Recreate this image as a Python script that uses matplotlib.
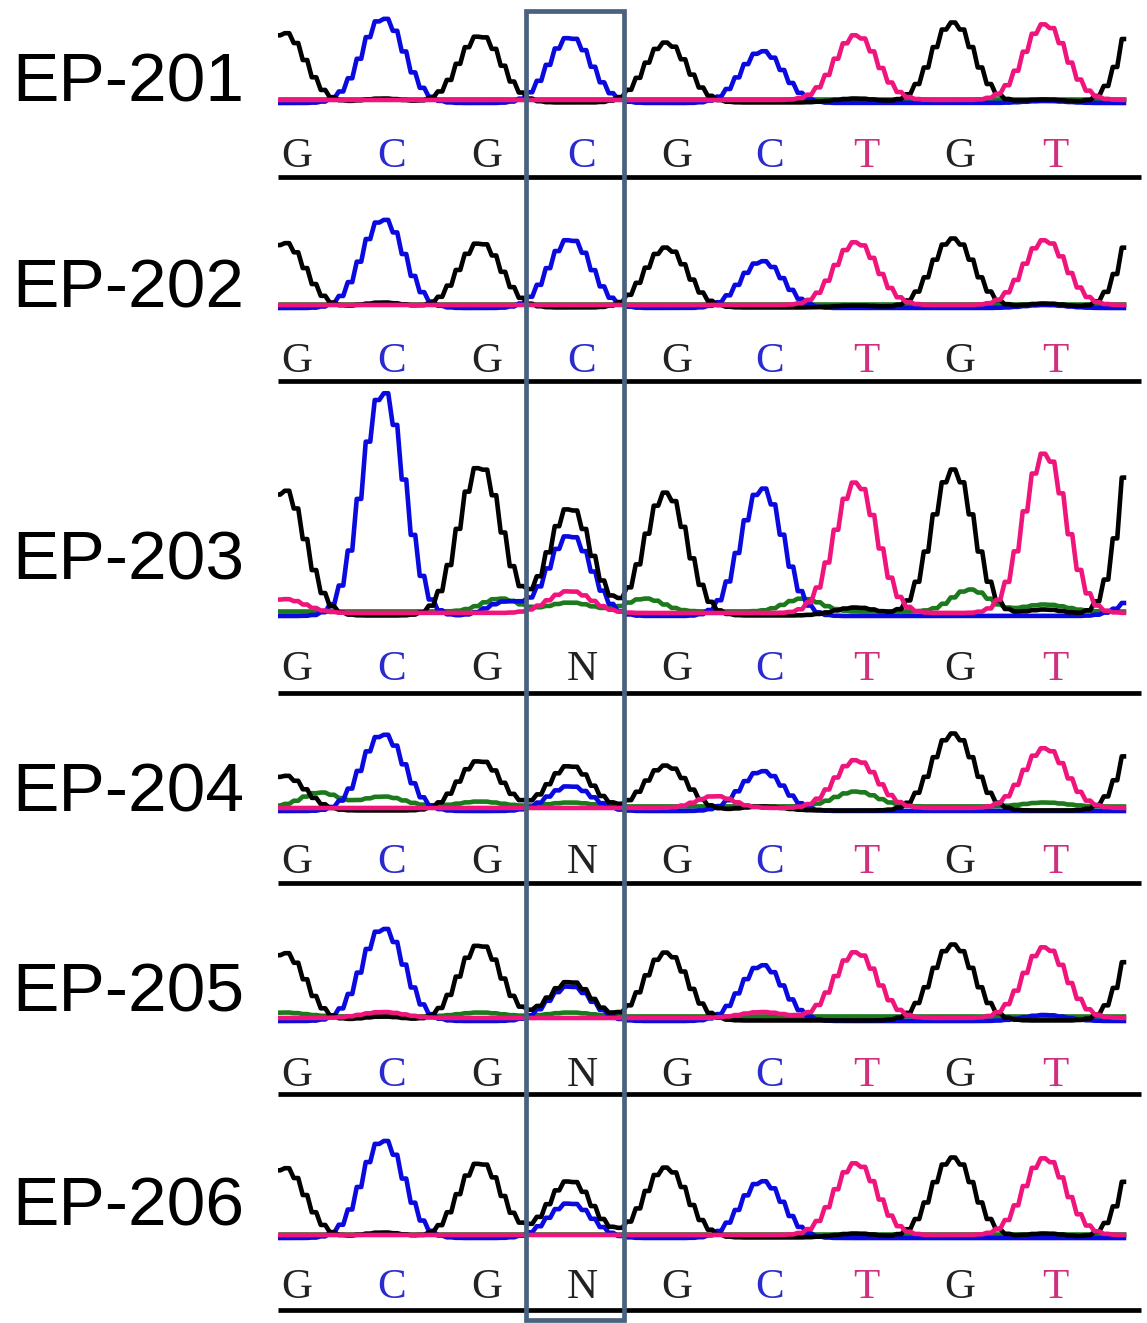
import numpy as np
import matplotlib
matplotlib.use("Agg")
import matplotlib.pyplot as plt
from matplotlib.patches import Rectangle

# ---------------- data ----------------
SAMPLES = ["EP-201", "EP-202", "EP-203", "EP-204", "EP-205", "EP-206"]
CALLS = ["GCGCGCTGT", "GCGCGCTGT", "GCGNGCTGT", "GCGNGCTGT", "GCGNGCTGT", "GCGNGCTGT"]

# scan positions of peak centres and of the called letters
PEAK_POS = [284, 383, 480, 570, 666, 762, 856, 953, 1045, 1148]
LETTER_POS = [297, 392, 487, 582, 677, 770, 866, 960, 1055]

# peak heights per channel at PEAK_POS (signal units)
G_BLACK = [
    [70, 4, 67, 0, 60, 0, 4, 80, 3, 122],
    [65, 5, 65, 0, 60, 0, 2, 69, 4, 115],
    [126, 0, 150, 108, 123, 0, 8, 146, 6, 265],
    [35, 0, 50, 45, 45, 4, 0, 77, 0, 104],
    [68, 4, 76, 39, 68, 0, 0, 76, 0, 112],
    [70, 5, 75, 57, 70, 0, 4, 80, 4, 107],
]
C_BLUE = [
    [0, 85, 0, 66, 0, 52, 0, 0, 2, 0],
    [0, 89, 0, 69, 0, 47, 0, 0, 3, 0],
    [0, 225, 0, 81, 0, 128, 0, 0, 0, 25],
    [0, 77, 0, 25, 0, 40, 0, 0, 0, 0],
    [0, 93, 0, 35, 0, 56, 0, 0, 6, 0],
    [0, 98, 0, 35, 0, 57, 0, 0, 0, 0],
]
T_PINK = [
    [0, 0, 0, 0, 0, 0, 65, 0, 76, 0],
    [0, 0, 0, 0, 0, 0, 63, 0, 65, 0],
    [14, 0, 0, 22, 0, 0, 131, 0, 160, 0],
    [0, 0, 0, 0, 0, 0, 48, 0, 60, 0],
    [0, 6, 0, 0, 0, 6, 66, 0, 71, 0],
    [0, 0, 0, 0, 0, 0, 72, 0, 77, 0],
]
A_GREEN = [
    [0, 0, 0, 0, 0, 0, 0, 0, 0, 0],
    [0, 0, 0, 0, 0, 0, 0, 0, 0, 0],
    [0, 0, 0, 9, 0, 0, 0, 0, 7, 0],
    [0, 10, 5, 4, 0, 0, 15, 0, 4, 0],
    [4, 0, 4, 4, 0, 0, 0, 0, 0, 0],
    [0, 0, 0, 0, 0, 0, 0, 0, 0, 0],
]
# extra small off-grid peaks: (channel, scan position, height)
MINOR = [
    [],
    [],
    [("C", 505, 14), ("A", 500, 13), ("A", 645, 13), ("A", 803, 13), ("A", 970, 22)],
    [("A", 320, 14), ("T", 715, 12)],
    [],
    [],
]

# ---------------- layout (pixels) ----------------
W, H = 1147, 1323
TRACE_BASE = [100, 305, 613, 808, 1018, 1235]
LETTER_BASE = [167, 372, 680, 873, 1086, 1298]
RULE_Y = [177, 381, 693, 883, 1094, 1310]
LABEL_BASE = [102, 307, 580, 812, 1012, 1225]
X0, X1, RULE_X1 = 278, 1130, 1141
SIGMA = 21.0
STEP = 9.0

COLORS = {"A": "#1c7a1c", "C": "#0a0ae0", "G": "#000000", "T": "#f0157c"}
OFFSET = {"A": 1.5, "C": -3.0, "G": -2.5, "T": 0.0}
LETTER_COLORS = {"G": "#222222", "C": "#2a2ad0", "T": "#d0307e", "N": "#222222"}

fig = plt.figure(figsize=(W / 100, H / 100), dpi=100)
fig.patch.set_facecolor("white")

xs = np.arange(X0, X1 + 0.1, STEP)


def stairs(x, y, h=STEP):
    px = np.column_stack([x - h / 4, x + h / 4]).ravel()
    py = np.column_stack([y, y]).ravel()
    px = np.clip(px, X0, X1)
    return px, py


lw = 4.6 * 72 / 100

for k in range(6):
    base = TRACE_BASE[k]
    top_px = 0 if k == 0 else RULE_Y[k - 1] + 6
    bot_px = RULE_Y[k] + 6
    ax = fig.add_axes([X0 / W, 1 - bot_px / H, (W - X0) / W, (bot_px - top_px) / H])
    ax.set_xlim(X0, W)
    ax.set_ylim(base - bot_px, base - top_px)
    ax.axis("off")

    chans = {"A": A_GREEN[k], "C": C_BLUE[k], "G": G_BLACK[k], "T": T_PINK[k]}
    for ch in ["A", "C", "G", "T"]:
        y = np.zeros_like(xs)
        for pos, hgt in zip(PEAK_POS, chans[ch]):
            y += hgt * np.exp(-0.5 * ((xs - pos) / SIGMA) ** 2)
        for mch, mpos, mh in MINOR[k]:
            if mch == ch:
                y += mh * np.exp(-0.5 * ((xs - mpos) / 18.0) ** 2)
        px, py = stairs(xs, y + OFFSET[ch])
        ax.plot(px, py, color=COLORS[ch], lw=lw, solid_joinstyle="round",
                solid_capstyle="butt", clip_on=False)

    for xl, b in zip(LETTER_POS, CALLS[k]):
        ax.text(xl, base - LETTER_BASE[k], b, ha="center", va="baseline",
                fontsize=31, family="Liberation Serif", color=LETTER_COLORS[b])
    ax.hlines(base - RULE_Y[k], X0, RULE_X1, color="black", lw=3.4, clip_on=False)

    fig.text(12 / W, 1 - LABEL_BASE[k] / H, SAMPLES[k], ha="left", va="baseline",
             fontsize=50, family="Liberation Sans", color="black")

# highlight box around the variable position
bx0, bx1, by0, by1 = 526, 624, 11, 1320
fig.add_artist(Rectangle((bx0 / W, 1 - by1 / H), (bx1 - bx0) / W, (by1 - by0) / H,
                         transform=fig.transFigure, fill=False,
                         edgecolor="#4a6180", lw=3.4, zorder=10))

fig.savefig("out.png", dpi=100, facecolor="white")
